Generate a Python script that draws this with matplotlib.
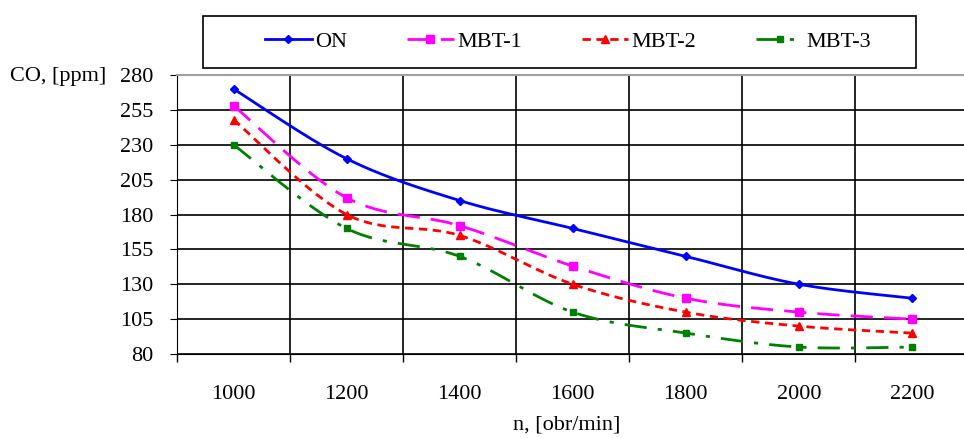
import matplotlib
matplotlib.use('Agg')
import matplotlib.pyplot as plt
from matplotlib.patches import Rectangle
import numpy as np

plt.rcParams['font.family'] = ['Liberation Serif', 'DejaVu Serif']

rpm = [1000, 1200, 1400, 1600, 1800, 2000, 2200]
co_on = [270, 220, 190, 170, 150, 130, 120]
co_mbt1 = [258, 192, 172, 143, 120, 110, 105]
co_mbt2 = [248, 180, 165, 130, 110, 100, 95]
co_mbt3 = [230, 170, 150, 110, 95, 85, 85]
y_ticks = [80, 105, 130, 155, 180, 205, 230, 255, 280]


def smooth(x, y, n=30):
    # Excel-style smoothed line: cubic Bezier with Catmull-Rom control points
    p = np.column_stack([x, y]).astype(float)
    pts = [p[0]]
    for i in range(len(p) - 1):
        p0 = p[i - 1] if i > 0 else p[i]
        p3 = p[i + 2] if i + 2 < len(p) else p[i + 1]
        c1 = p[i] + (p[i + 1] - p0) / 6
        c2 = p[i + 1] - (p3 - p[i]) / 6
        t = np.linspace(0, 1, n)[1:, None]
        seg = ((1 - t) ** 3) * p[i] + 3 * ((1 - t) ** 2) * t * c1 \
            + 3 * (1 - t) * t ** 2 * c2 + t ** 3 * p[i + 1]
        pts.extend(seg)
    pts = np.array(pts)
    return pts[:, 0], pts[:, 1]


fig = plt.figure(figsize=(9.64, 4.38), dpi=100)
ax = fig.add_axes([177 / 964, 84 / 438, 791.5 / 964, 279 / 438])

series = [
    ('ON', co_on, '#0000FF', '-', 'D', 4),
    ('MBT-1', co_mbt1, '#FF00FF', (0, (8, 4)), 's', 6),
    ('MBT-2', co_mbt2, '#FF0000', (0, (3, 2)), '^', 6),
    ('MBT-3', co_mbt3, '#008000', (0, (8, 4, 1.5, 4)), 's', 5),
]
handles = []
for name, vals, col, ls, mk, ms in series:
    sx, sy = smooth(rpm, vals)
    ax.plot(sx, sy, color=col, linestyle=ls, linewidth=2, zorder=3)
    ax.plot(rpm, vals, linestyle='none', marker=mk, markersize=ms, color=col, zorder=4)
    h, = ax.plot([], [], color=col, linestyle=ls, linewidth=2, marker=mk, markersize=ms)
    h.set_label(name)
    handles.append(h)

ax.set_xlim(900, 2300)
ax.set_ylim(80, 280)
ax.set_yticks(y_ticks)
ax.set_xticks(np.arange(900, 2301, 200))
ax.set_xticklabels([])
ax.set_xticks(rpm, minor=True)
ax.set_xticklabels([str(v) for v in rpm], minor=True)
ax.tick_params(axis='x', which='minor', length=0, pad=22, labelsize=16)
ax.tick_params(axis='x', which='major', length=6, direction='out', width=1)
ax.tick_params(axis='y', length=5, direction='out', labelsize=16, pad=12)
ax.grid(True, which='major', color='black', linewidth=1.2)
ax.set_axisbelow(True)

ax.spines['right'].set_visible(False)
ax.spines['top'].set_color('#a0a0a0')
ax.spines['top'].set_linewidth(1.5)

fig.text(10 / 964, 1 - 76 / 438, 'CO, [ppm]', fontsize=16, va='center', ha='left')
fig.text(567 / 964, 1 - 425 / 438, 'n, [obr/min]', fontsize=16, va='center', ha='center')

# legend box (wider than content, as in the source)
fig.patches.append(Rectangle((203 / 964, 1 - 68 / 438), 713 / 964, 52 / 438,
                             transform=fig.transFigure, fill=False,
                             edgecolor='black', linewidth=1.2))
fig.legend(handles=handles, loc='center', bbox_to_anchor=(568 / 964, 1 - 42 / 438),
           ncol=4, frameon=False, fontsize=16, handlelength=2.1,
           columnspacing=2.7, handletextpad=0.15)

fig.savefig('out.png', dpi=100)
